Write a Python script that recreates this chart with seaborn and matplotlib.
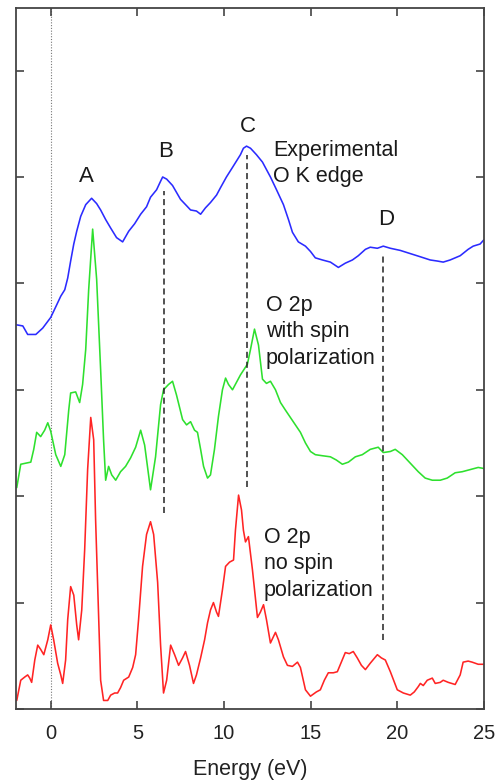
import numpy as np
import pandas as pd
import matplotlib
matplotlib.use("Agg")
import matplotlib.pyplot as plt
import seaborn as sns

# Experimental O K edge (offset upward)
exp_energy = [-1.96, -1.61, -1.33, -0.86, -0.46, 0.00, 0.35, 0.58, 0.81, 0.98, 1.15, 1.33, 1.50, 1.73,
              2.02, 2.36, 2.65, 2.88, 3.17, 3.46, 3.80, 4.15, 4.50, 4.84, 5.19, 5.53, 5.76, 6.11,
              6.34, 6.46, 6.69, 7.03, 7.49, 7.84, 8.07, 8.41, 8.65, 8.93, 9.22, 9.57, 9.80, 10.14,
              10.49, 10.72, 10.95, 11.12, 11.30, 11.53, 11.87, 12.22, 12.68, 13.03, 13.43, 13.72,
              13.95, 14.29, 14.70, 14.99, 15.27, 15.68, 16.14, 16.60, 17.00, 17.41, 17.75, 18.16,
              18.44, 18.85, 19.19, 19.60, 20.17, 20.75, 21.33, 21.90, 22.31, 22.65, 23.05, 23.63,
              24.09, 24.38, 24.78, 25.00]
exp_intensity = [3.61, 3.60, 3.52, 3.52, 3.58, 3.68, 3.80, 3.88, 3.94, 4.05, 4.21, 4.37, 4.49, 4.63,
                 4.74, 4.80, 4.75, 4.69, 4.60, 4.52, 4.43, 4.39, 4.49, 4.56, 4.65, 4.72, 4.81, 4.88,
                 4.96, 5.00, 4.98, 4.92, 4.79, 4.73, 4.69, 4.68, 4.65, 4.71, 4.76, 4.83, 4.90, 5.00,
                 5.09, 5.15, 5.21, 5.27, 5.29, 5.27, 5.21, 5.14, 5.00, 4.88, 4.74, 4.60,
                 4.48, 4.39, 4.35, 4.30, 4.24, 4.22, 4.20, 4.15, 4.19, 4.22, 4.26, 4.32,
                 4.34, 4.33, 4.35, 4.33, 4.31, 4.28, 4.25, 4.22, 4.21, 4.20, 4.22, 4.26,
                 4.32, 4.35, 4.37, 4.41]

# Calculated O 2p with spin polarization
sp_energy = [-1.96, -1.73, -1.44, -1.15, -0.98, -0.81, -0.58, -0.35, -0.17, 0.00, 0.29, 0.58, 0.81,
             1.04, 1.15, 1.44, 1.67, 1.84, 2.02, 2.19, 2.42, 2.65, 2.88, 3.05, 3.17, 3.34, 3.52,
             3.75, 4.03, 4.32, 4.61, 4.90, 5.19, 5.42, 5.76, 6.05, 6.34, 6.51, 6.80, 7.03, 7.26,
             7.61, 7.84, 8.07, 8.30, 8.47, 8.65, 8.82, 9.05, 9.22, 9.45, 9.68, 9.91, 10.09, 10.26,
             10.49, 10.72, 10.95, 11.35, 11.53, 11.76, 11.99, 12.22, 12.45, 12.68, 12.97, 13.26,
             13.54, 13.83, 14.12, 14.41, 14.70, 14.99, 15.27, 15.68, 16.14, 16.48, 16.83, 17.18,
             17.58, 17.98, 18.44, 18.90, 19.19, 19.60, 19.88, 20.29, 20.75, 21.21, 21.61, 22.02,
             22.48, 22.88, 23.34, 23.75, 24.21, 24.67, 25.00]
sp_intensity = [2.08, 2.30, 2.31, 2.32, 2.44, 2.60, 2.56, 2.62, 2.69, 2.61, 2.39, 2.28, 2.39,
                2.81, 2.97, 2.98, 2.88, 3.05, 3.38, 3.94, 4.51, 4.04, 3.19, 2.53, 2.15, 2.28, 2.20,
                2.15, 2.23, 2.28, 2.36, 2.46, 2.62, 2.48, 2.06, 2.37, 2.86, 3.00, 3.05, 3.08, 2.95,
                2.72, 2.67, 2.70, 2.62, 2.60, 2.44, 2.28, 2.17, 2.20, 2.44, 2.75, 3.00, 3.11, 3.05,
                3.00, 3.07, 3.14, 3.24, 3.38, 3.57, 3.42, 3.10, 3.06, 3.08, 3.00, 2.88,
                2.81, 2.74, 2.67, 2.60, 2.50, 2.42, 2.39, 2.38, 2.37, 2.34, 2.30, 2.32,
                2.37, 2.39, 2.44, 2.46, 2.41, 2.42, 2.44, 2.39, 2.31, 2.23, 2.17, 2.15,
                2.15, 2.17, 2.22, 2.23, 2.25, 2.27, 2.26]

# Calculated O 2p without spin polarization
nsp_energy = [-1.96, -1.84, -1.73, -1.50, -1.33, -1.21, -1.10, -0.92, -0.75, -0.58, -0.40, -0.17,
              0.00, 0.17, 0.40, 0.58, 0.69, 0.86, 0.98, 1.15, 1.33, 1.50, 1.61, 1.79, 1.96, 2.13,
              2.31, 2.48, 2.59, 2.77, 2.88, 3.05, 3.29, 3.46, 3.69, 3.86, 4.03, 4.21, 4.50, 4.73,
              4.90, 5.07, 5.30, 5.53, 5.76, 5.94, 6.17, 6.34, 6.51, 6.69, 6.92, 7.15, 7.38, 7.61,
              7.78, 8.01, 8.24, 8.41, 8.65, 8.88, 9.05, 9.22, 9.39, 9.57, 9.68, 9.91, 10.09, 10.32,
              10.55, 10.66, 10.84, 11.01, 11.12, 11.24, 11.41, 11.64, 11.93, 12.10, 12.28, 12.45,
              12.68, 12.97, 13.14, 13.43, 13.66, 13.95, 14.24, 14.41, 14.70, 14.99, 15.33, 15.56,
              15.79, 16.02, 16.31, 16.54, 16.77, 17.00, 17.23, 17.46, 17.69, 17.93, 18.16, 18.44,
              18.85, 19.08, 19.31, 19.60, 20.00, 20.35, 20.75, 20.98, 21.21, 21.33, 21.50, 21.73,
              22.02, 22.19, 22.48, 22.65, 22.94, 23.34, 23.63, 23.80, 24.09, 24.32, 24.67, 25.00]
nsp_intensity = [0.08, 0.18, 0.27, 0.30, 0.32, 0.29, 0.25, 0.46, 0.60, 0.56, 0.51, 0.65,
                 0.79, 0.65, 0.43, 0.32, 0.24, 0.46, 0.84, 1.15, 1.07, 0.79, 0.65, 0.93, 1.50, 2.25,
                 2.74, 2.53, 1.78, 0.84, 0.27, 0.08, 0.08, 0.13, 0.15, 0.15, 0.20, 0.27, 0.30, 0.39,
                 0.51, 0.84, 1.34, 1.64, 1.76, 1.64, 1.19, 0.60, 0.15, 0.27, 0.60, 0.51, 0.41, 0.48,
                 0.54, 0.41, 0.24, 0.32, 0.48, 0.65, 0.81, 0.93, 1.00, 0.91, 0.87, 1.12, 1.34, 1.38,
                 1.40, 1.68, 2.01, 1.87, 1.68, 1.57, 1.62, 1.31, 0.86, 0.91, 0.98, 0.84,
                 0.62, 0.72, 0.65, 0.49, 0.41, 0.40, 0.44, 0.39, 0.18, 0.12, 0.16, 0.18,
                 0.27, 0.34, 0.34, 0.35, 0.44, 0.53, 0.52, 0.54, 0.48, 0.41, 0.37, 0.43,
                 0.51, 0.48, 0.46, 0.35, 0.18, 0.15, 0.13, 0.16, 0.21, 0.24, 0.22, 0.27,
                 0.29, 0.24, 0.25, 0.27, 0.25, 0.23, 0.32, 0.44, 0.45, 0.44, 0.42, 0.42]

# Feature markers: energy, lower and upper extent of the dashed guide
peak_labels = ["A", "B", "C", "D"]
peak_label_pos = [(2.05, 4.91), (6.6, 5.14), (11.4, 5.38), (19.35, 4.50)]
guide_energy = [6.51, 11.30, 19.19]
guide_low = [1.84, 2.09, 0.65]
guide_high = [4.87, 5.21, 4.26]

curve_labels = ["Experimental\nO K edge", "O 2p\nwith spin\npolarization", "O 2p\nno spin\npolarization"]
curve_label_pos = [(12.85, 5.35), (12.4, 3.89), (12.3, 1.71)]

x_ticks = [0, 5, 10, 15, 20, 25]
y_ticks = [0, 1, 2, 3, 4, 5, 6]

sns.set_style("white")
plt.rcParams["font.family"] = ["Liberation Sans", "DejaVu Sans"]

fig = plt.figure(figsize=(5.02, 7.82), dpi=100)
ax = fig.add_axes([0.032, 0.0934, 0.932, 0.8966])

frames = [
    pd.DataFrame({"energy": exp_energy, "intensity": exp_intensity}),
    pd.DataFrame({"energy": sp_energy, "intensity": sp_intensity}),
    pd.DataFrame({"energy": nsp_energy, "intensity": nsp_intensity}),
]
colors = ["#2b2bff", "#2ee02e", "#ff2424"]
for df, c in zip(frames, colors):
    sns.lineplot(data=df, x="energy", y="intensity", color=c, lw=1.15, sort=False, ax=ax)

ax.axvline(0, color="#777777", lw=0.8, ls=(0, (1, 1.5)), zorder=0)
for e, lo, hi in zip(guide_energy, guide_low, guide_high):
    ax.plot([e, e], [lo, hi], color="#222222", lw=1.1, ls=(0, (4, 2.5)))

for lab, (px, py) in zip(peak_labels, peak_label_pos):
    ax.text(px, py, lab, fontsize=16, ha="center", va="bottom", color="#1a1a1a")
for lab, (px, py) in zip(curve_labels, curve_label_pos):
    ax.text(px, py, lab, fontsize=15.5, ha="left", va="top", color="#1a1a1a", linespacing=1.33)

ax.set_xlim(-2, 25)
ax.set_ylim(0, 6.59)
ax.set_xticks(x_ticks)
ax.set_yticks(y_ticks)
ax.set_yticklabels([])
ax.tick_params(axis="both", direction="in", length=6, width=1.2, color="#444444",
               top=True, right=True, left=True, bottom=True, labelsize=14.5,
               labelcolor="#222222", pad=11)
ax.set_xlabel("Energy (eV)", fontsize=15.5, color="#222222", labelpad=11)
ax.set_ylabel("")
for s in ax.spines.values():
    s.set_color("#444444")
    s.set_linewidth(1.3)

fig.savefig("out.png", dpi=100)
